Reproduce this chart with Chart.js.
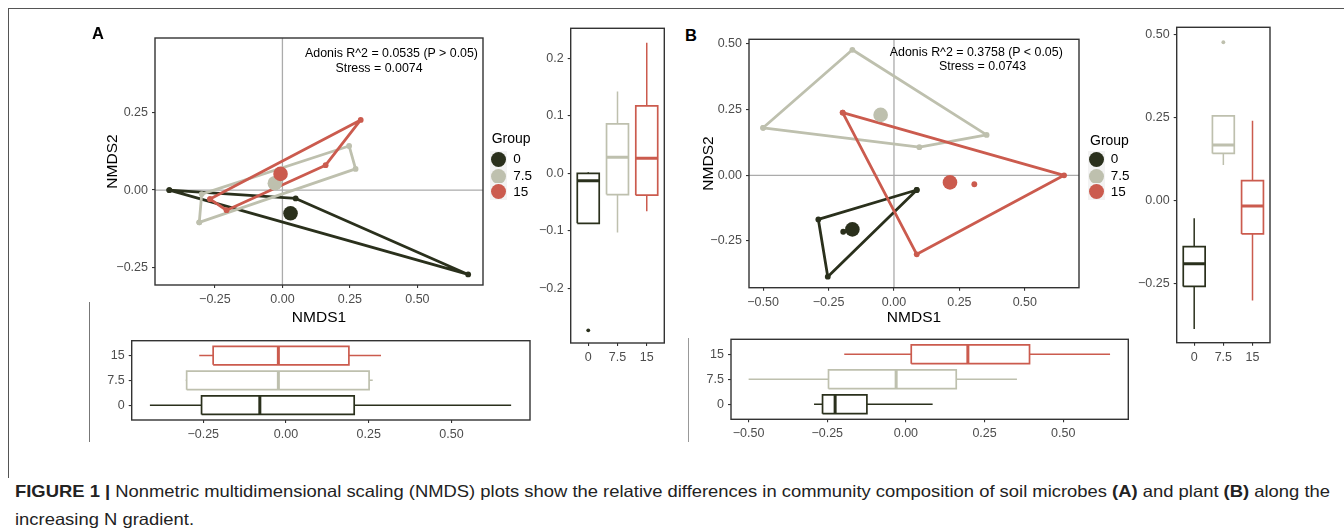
<!DOCTYPE html>
<html><head><meta charset="utf-8">
<script src="https://cdn.jsdelivr.net/npm/chart.js@4.4.0/dist/chart.umd.min.js"></script>
<style>
html,body{margin:0;padding:0;background:#fff;width:1344px;height:531px;overflow:hidden;position:relative;font-family:"Liberation Sans",Arial,sans-serif;}
.t{position:absolute;white-space:nowrap;line-height:1;}
.ln{position:absolute;}
</style></head><body>
<div class="ln" style="left:8px;top:7.5px;width:1336px;height:1.4px;background:#555"></div>
<div class="ln" style="left:7.5px;top:8px;width:1.4px;height:470px;background:#555"></div>
<div class="ln" style="left:89px;top:302px;width:1px;height:140px;background:#777"></div>
<div class="ln" style="left:688px;top:338px;width:1px;height:104px;background:#999"></div>
<script>
// ---------------- DATA ----------------
const groups = ['0', '7.5', '15'];

// Panel A (soil microbes): hull vertices [NMDS1, NMDS2]
const aHull0  = [[-0.419, 0.000], [0.049, -0.027], [0.688, -0.272]];
const aHull75 = [[-0.308, -0.104], [-0.299, -0.013], [0.247, 0.142], [0.271, 0.068]];
const aHull15 = [[-0.268, -0.029], [0.290, 0.226], [0.160, 0.080], [-0.207, -0.065]];
const aCentroids = [[0.030, -0.075], [-0.028, 0.022], [-0.007, 0.052]];

// Panel B (plant)
const bHull0  = [[0.087, -0.056], [-0.289, -0.168], [-0.253, -0.386]];
const bHull75 = [[-0.500, 0.181], [-0.159, 0.478], [0.354, 0.154], [0.097, 0.107]];
const bHull15 = [[-0.196, 0.239], [0.650, 0.000], [0.087, -0.301]];
const bInner0  = [[-0.194, -0.215]];
const bInner15 = [[0.307, -0.034]];
const bCentroids = [[-0.159, -0.206], [-0.051, 0.230], [0.214, -0.027]];

// Box statistics [lower whisker, Q1, median, Q3, upper whisker]
const aNMDS2Box0  = [-0.087, -0.087, -0.013, 0.000, 0.002];
const aNMDS2Box75 = [-0.103, -0.037, 0.028, 0.086, 0.142];
const aNMDS2Box15 = [-0.066, -0.038, 0.026, 0.117, 0.227];
const aNMDS2Out0  = [-0.273];
const aNMDS1Box0  = [-0.411, -0.255, -0.079, 0.206, 0.680];
const aNMDS1Box75 = [-0.303, -0.300, -0.023, 0.251, 0.262];
const aNMDS1Box15 = [-0.262, -0.220, -0.023, 0.190, 0.287];

const bNMDS2Box0  = [-0.386, -0.258, -0.190, -0.138, -0.053];
const bNMDS2Box75 = [0.107, 0.142, 0.167, 0.255, 0.255];
const bNMDS2Box15 = [-0.300, -0.100, -0.016, 0.060, 0.240];
const bNMDS2Out75 = [0.476];
const bNMDS1Box0  = [-0.292, -0.265, -0.225, -0.124, 0.085];
const bNMDS1Box75 = [-0.500, -0.246, -0.031, 0.160, 0.353];
const bNMDS1Box15 = [-0.196, 0.017, 0.197, 0.393, 0.649];

// Tick values
const aScatterXTicks = [-0.25, 0, 0.25, 0.5];
const aScatterYTicks = [-0.25, 0, 0.25];
const aVBoxTicks = [-0.2, -0.1, 0, 0.1, 0.2];
const aHBoxTicks = [-0.25, 0, 0.25, 0.5];
const bScatterXTicks = [-0.5, -0.25, 0, 0.25, 0.5];
const bScatterYTicks = [-0.25, 0, 0.25, 0.5];
const bVBoxTicks = [-0.25, 0, 0.25, 0.5];
const bHBoxTicks = [-0.5, -0.25, 0, 0.25, 0.5];
const groupTicks = [0, 1, 2];

// ---------------- STYLE ----------------
const COLORS = ['#2A301C', '#BEC0AE', '#CB5B4E'];
const FONT = '"Liberation Sans", Arial, sans-serif';

function fmt(v, d) { let s = (Math.abs(v) < 1e-9 ? 0 : v).toFixed(d); return s.replace('-', '\u2212'); }

const framePlugin = {
  id: 'frame',
  beforeDatasetsDraw(chart, args, opts) {
    if (!opts.zero) return;
    const {ctx, chartArea: a, scales: {x, y}} = chart;
    ctx.save(); ctx.strokeStyle = '#ABABAB'; ctx.lineWidth = 1.3;
    const px = x.getPixelForValue(0), py = y.getPixelForValue(0);
    ctx.beginPath(); ctx.moveTo(px, a.top); ctx.lineTo(px, a.bottom);
    ctx.moveTo(a.left, py); ctx.lineTo(a.right, py); ctx.stroke(); ctx.restore();
  },
  afterDatasetsDraw(chart) {
    const {ctx, chartArea: a} = chart;
    ctx.save(); ctx.strokeStyle = '#333'; ctx.lineWidth = 1.4;
    ctx.strokeRect(a.left, a.top, a.right - a.left, a.bottom - a.top); ctx.restore();
  }
};

function axis(min, max, ticks, labelFn, size, isX, title) {
  return {
    type: 'linear', min, max,
    afterBuildTicks(s) { s.ticks = ticks.map(v => ({value: v})); },
    afterFit(s) { if (isX) s.height = size; else s.width = size; },
    ticks: {callback: v => labelFn(v), color: '#4D4D4D', font: {family: FONT, size: 12.5}, padding: 4, maxRotation: 0, autoSkip: false},
    grid: {display: true, drawOnChartArea: false, drawTicks: true, tickLength: 3, color: '#333', lineWidth: 1.1},
    border: {display: false},
    title: title ? {display: true, text: title, padding: 0, color: '#000', font: {family: FONT, size: 15.5}} : {display: false}
  };
}

function makeChart(spec) {
  const lh = 18.6;
  const a = spec.area;
  const yWnom = spec.yTitleX !== undefined ? a.l - (spec.yTitleX - lh / 2) : 42;
  const xHnom = spec.xTitleY !== undefined ? (spec.xTitleY + lh / 2) - a.b : 28;
  const L = Math.floor(a.l - yWnom), T = Math.floor(a.t - 14);
  const yW = a.l - L, padT = a.t - T;
  const W = Math.ceil(a.r + 14 - L), H = Math.ceil(a.b + xHnom - T);
  const padR = W - (a.r - L), xH = T + H - a.b;
  const cv = document.createElement('canvas');
  cv.width = W; cv.height = H;
  cv.style.cssText = `position:absolute;left:${L}px;top:${T}px;width:${W}px;height:${H}px`;
  document.body.appendChild(cv);
  new Chart(cv, {
    type: 'scatter',
    data: {datasets: spec.datasets.slice().reverse()},
    options: {
      responsive: false, animation: false, events: [], devicePixelRatio: 1,
      layout: {padding: {top: padT, right: padR, left: 0, bottom: 0}},
      plugins: {legend: {display: false}, tooltip: {enabled: false}, frame: {zero: !!spec.zero}},
      scales: {
        x: axis(spec.x[0], spec.x[1], spec.xTicks, spec.xLabel, xH, true, spec.xTitle),
        y: axis(spec.y[0], spec.y[1], spec.yTicks, spec.yLabel, yW, false, spec.yTitle)
      }
    },
    plugins: [framePlugin]
  });
}

const P = p => ({x: p[0], y: p[1]});
function hullDs(pts, color) {
  const d = pts.map(P); d.push(d[0]);
  return {data: d, showLine: true, borderColor: color, borderWidth: 2.8, pointRadius: 2.9, pointBackgroundColor: color, pointBorderWidth: 0, tension: 0, borderJoinStyle: 'round'};
}
function dotDs(pts, color, r) {
  return {data: pts.map(P), showLine: false, pointRadius: r, pointBackgroundColor: color, pointBorderWidth: 0};
}
function boxDs(stats, pos, color, horizontal, outliers) {
  const [lo, q1, md, q3, hi] = stats, h = 0.375;
  const Q = horizontal ? (v, c) => ({x: v, y: c}) : (v, c) => ({x: c, y: v});
  const line = (pts, w) => ({data: pts, showLine: true, borderColor: color, borderWidth: w, pointRadius: 0, tension: 0, borderJoinStyle: 'miter'});
  const ds = [
    line([Q(lo, pos), Q(q1, pos)], 1.5),
    line([Q(q3, pos), Q(hi, pos)], 1.5),
    line([Q(q1, pos - h), Q(q3, pos - h), Q(q3, pos + h), Q(q1, pos + h), Q(q1, pos - h)], 1.7),
    line([Q(md, pos - h), Q(md, pos + h)], 3)
  ];
  if (outliers && outliers.length) ds.push({data: outliers.map(v => Q(v, pos)), showLine: false, pointRadius: 1.9, pointBackgroundColor: color, pointBorderWidth: 0});
  return ds;
}
const gLabel = v => groups[Math.round(v)];

// ---------------- PANEL A ----------------
makeChart({
  area: {l: 155, t: 38, r: 483, b: 285}, yTitleX: 113, xTitleY: 317, zero: true,
  x: [-0.472, 0.743], y: [-0.306, 0.49], xTicks: aScatterXTicks, yTicks: aScatterYTicks,
  xLabel: v => fmt(v, 2), yLabel: v => fmt(v, 2), xTitle: 'NMDS1', yTitle: 'NMDS2',
  datasets: [hullDs(aHull0, COLORS[0]), hullDs(aHull75, COLORS[1]), hullDs(aHull15, COLORS[2]),
    dotDs([aCentroids[0]], COLORS[0], 7.3), dotDs([aCentroids[1]], COLORS[1], 7.3), dotDs([aCentroids[2]], COLORS[2], 7.3)]
});
makeChart({
  area: {l: 570.7, t: 28.3, r: 664.3, b: 343},
  x: [-0.6, 2.6], y: [-0.295, 0.252], xTicks: groupTicks, yTicks: aVBoxTicks,
  xLabel: gLabel, yLabel: v => fmt(v, 1),
  datasets: [...boxDs(aNMDS2Box0, 0, COLORS[0], false, aNMDS2Out0), ...boxDs(aNMDS2Box75, 1, COLORS[1], false), ...boxDs(aNMDS2Box15, 2, COLORS[2], false)]
});
makeChart({
  area: {l: 131.7, t: 340.7, r: 530, b: 420},
  x: [-0.466, 0.737], y: [-0.6, 2.6], xTicks: aHBoxTicks, yTicks: groupTicks,
  xLabel: v => fmt(v, 2), yLabel: gLabel,
  datasets: [...boxDs(aNMDS1Box0, 0, COLORS[0], true), ...boxDs(aNMDS1Box75, 1, COLORS[1], true), ...boxDs(aNMDS1Box15, 2, COLORS[2], true)]
});

// ---------------- PANEL B ----------------
makeChart({
  area: {l: 749, t: 39.3, r: 1079, b: 287.7}, yTitleX: 708.3, xTitleY: 317, zero: true,
  x: [-0.554, 0.707], y: [-0.428, 0.518], xTicks: bScatterXTicks, yTicks: bScatterYTicks,
  xLabel: v => fmt(v, 2), yLabel: v => fmt(v, 2), xTitle: 'NMDS1', yTitle: 'NMDS2',
  datasets: [hullDs(bHull0, COLORS[0]), hullDs(bHull75, COLORS[1]), hullDs(bHull15, COLORS[2]),
    dotDs(bInner0, COLORS[0], 2.9), dotDs(bInner15, COLORS[2], 2.9),
    dotDs([bCentroids[0]], COLORS[0], 7.3), dotDs([bCentroids[1]], COLORS[1], 7.3), dotDs([bCentroids[2]], COLORS[2], 7.3)]
});
makeChart({
  area: {l: 1176.7, t: 27.3, r: 1270, b: 342.7},
  x: [-0.6, 2.6], y: [-0.427, 0.521], xTicks: groupTicks, yTicks: bVBoxTicks,
  xLabel: gLabel, yLabel: v => fmt(v, 2),
  datasets: [...boxDs(bNMDS2Box0, 0, COLORS[0], false), ...boxDs(bNMDS2Box75, 1, COLORS[1], false, bNMDS2Out75), ...boxDs(bNMDS2Box15, 2, COLORS[2], false)]
});
makeChart({
  area: {l: 731, t: 339.3, r: 1128.3, b: 419.3},
  x: [-0.556, 0.707], y: [-0.6, 2.6], xTicks: bHBoxTicks, yTicks: groupTicks,
  xLabel: v => fmt(v, 2), yLabel: gLabel,
  datasets: [...boxDs(bNMDS1Box0, 0, COLORS[0], true), ...boxDs(bNMDS1Box75, 1, COLORS[1], true), ...boxDs(bNMDS1Box15, 2, COLORS[2], true)]
});

// ---------------- TEXT ----------------
function txt(s, x, y, css, anchor) {
  const d = document.createElement('div'); d.className = 't'; d.textContent = s;
  const tx = anchor === 'l' ? '0' : anchor === 'r' ? '-100%' : '-50%';
  d.style.cssText += `left:${x}px;top:${y}px;transform:translate(${tx},-50%);` + (css || '');
  document.body.appendChild(d); return d;
}
txt('A', 98, 33, 'font-weight:bold;font-size:16.5px;', 'c');
txt('B', 691, 35, 'font-weight:bold;font-size:16.5px;', 'c');
txt('Adonis R^2 = 0.0535 (P > 0.05)', 391.5, 53, 'font-size:12.4px;', 'c');
txt('Stress = 0.0074', 379, 68, 'font-size:12.4px;', 'c');
txt('Adonis R^2 = 0.3758 (P < 0.05)', 976.3, 52.3, 'font-size:12.4px;', 'c');
txt('Stress = 0.0743', 982.5, 65.5, 'font-size:12.4px;', 'c');

function legend(x0, y0, labelX) {
  txt('Group', x0, y0, 'font-size:14px;', 'l');
  const ys = [159.3, 176, 191.7];
  groups.forEach((g, i) => {
    const cx = x0 + 6.6;
    const k = document.createElement('div');
    k.style.cssText = `position:absolute;left:${cx - 8.5}px;top:${ys[i] - 8.3}px;width:17px;height:16.6px;background:#F3F3F3;`;
    document.body.appendChild(k);
    const c = document.createElement('div');
    c.style.cssText = `position:absolute;left:${cx - 7.5}px;top:${ys[i] - 7.5}px;width:15px;height:15px;border-radius:50%;background:${COLORS[i]};`;
    document.body.appendChild(c);
    txt(g, labelX, ys[i], 'font-size:13.5px;', 'l');
  });
}
legend(491.7, 138.3, 513.3);
legend(1090, 140, 1110.7);

// caption
function capLine(html, y) {
  const d = document.createElement('div'); d.className = 't';
  d.innerHTML = html;
  d.style.cssText += `left:15px;top:${y}px;font-family:"Liberation Sans Narrow","Liberation Sans",Arial,sans-serif;font-size:16.5px;color:#222;transform-origin:0 50%;`;
  document.body.appendChild(d); return d;
}
const c1 = capLine('<b>FIGURE 1 |</b> Nonmetric multidimensional scaling (NMDS) plots show the relative differences in community composition of soil microbes <b>(A)</b> and plant <b>(B)</b> along the', 483);
const c2 = capLine('increasing N gradient.', 511);
const sc = 1315 / c1.getBoundingClientRect().width;
c1.style.transform = `scaleX(${sc})`;
c2.style.transform = `scaleX(${sc})`;
</script>
</body></html>
